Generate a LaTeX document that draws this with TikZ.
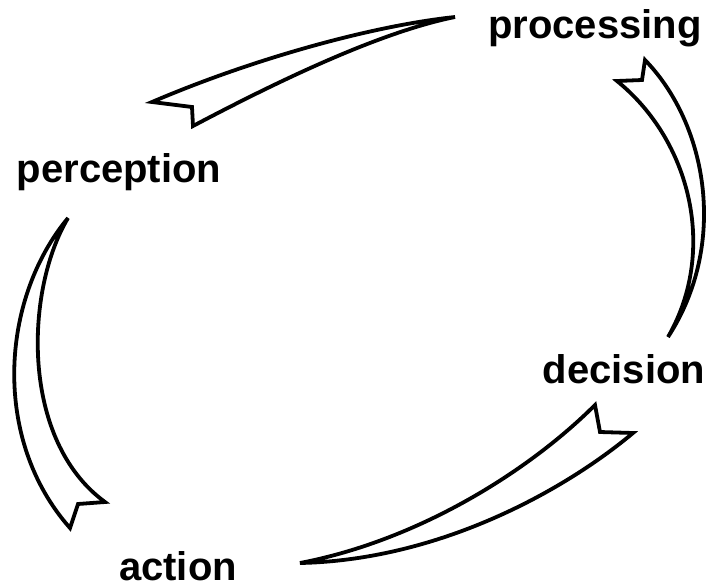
\documentclass[tikz,border=0pt]{standalone}
\usepackage{fontspec}
\setmainfont{Liberation Sans}
\begin{document}
\begin{tikzpicture}[x=1pt,y=-1pt,
  lbl/.style={anchor=base,inner sep=0pt,font=\fontsize{40}{48}\selectfont\bfseries},
  swoosh/.style={draw=black,fill=white,line width=3.8pt,line join=miter}]
\useasboundingbox (0,0) rectangle (709,587);
% labels
\node[lbl] (proc) at (595,38) {processing};
\node[lbl] (perc) at (119,182) {perception};
\node[lbl] (deci) at (624,383) {decision};
\node[lbl] (act) at (178,580) {action};
% top swoosh (processing -> perception)
\coordinate (t1) at (455,17);
\coordinate (l1) at (152,102);
\coordinate (n1) at (192,107);
\coordinate (b1) at (193,126);
\draw[swoosh] (t1) .. controls (370,26) and (250,60) .. (l1) -- (n1) -- (b1)
  .. controls (265,88) and (375,33) .. (t1) -- cycle;
% left swoosh (perception -> action)
\coordinate (t3) at (68,218);
\coordinate (b3) at (70,528);
\coordinate (n3) at (78,504);
\coordinate (r3) at (105,502);
\draw[swoosh] (t3) .. controls (0,300) and (-8,440) .. (b3) -- (n3) -- (r3)
  .. controls (20,440) and (25,290) .. (t3) -- cycle;
% bottom swoosh (action -> decision)
\coordinate (t4) at (300,563);
\coordinate (p4) at (595,405);
\coordinate (n4) at (600,432);
\coordinate (r4) at (633,433);
\draw[swoosh] (t4) .. controls (420,540) and (530,470) .. (p4) -- (n4) -- (r4)
  .. controls (565,490) and (440,560) .. (t4) -- cycle;
% right swoosh (decision -> processing)
\coordinate (t2) at (668,337);
\coordinate (p2) at (645,60);
\coordinate (n2) at (642,80);
\coordinate (l2) at (617,81);
\draw[swoosh] (t2) .. controls (728,245) and (708,125) .. (p2) -- (n2) -- (l2)
  .. controls (690,140) and (718,250) .. (t2) -- cycle;
\end{tikzpicture}
\end{document}
